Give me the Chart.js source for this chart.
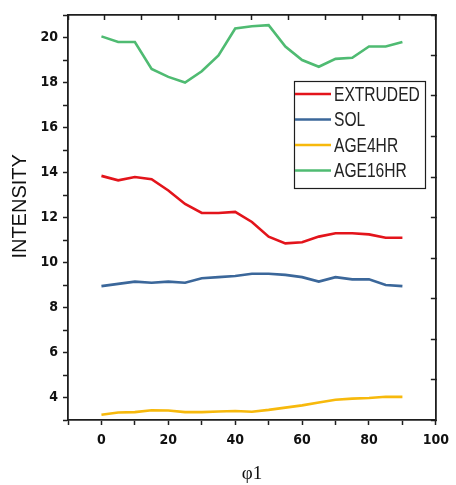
<!DOCTYPE html>
<html>
<head>
<meta charset="utf-8">
<script src="https://cdn.jsdelivr.net/npm/chart.js@4.4.1/dist/chart.umd.min.js"></script>
<style>
  html, body { margin: 0; padding: 0; background: #fff; }
  #wrap { width: 456px; height: 485px; }
</style>
</head>
<body>
<div id="wrap"><canvas id="c"></canvas></div>
<script>
// data
var PHI = [0, 5, 10, 15, 20, 25, 30, 35, 40, 45, 50, 55, 60, 65, 70, 75, 80, 85, 90];
var SERIES_NAMES = ['EXTRUDED', 'SOL', 'AGE4HR', 'AGE16HR'];
var EXTRUDED = [13.85, 13.65, 13.8, 13.7, 13.2, 12.6, 12.2, 12.2, 12.25, 11.8, 11.15, 10.85, 10.9, 11.15, 11.3, 11.3, 11.25, 11.1, 11.1];
var SOL      = [8.95, 9.05, 9.15, 9.1, 9.15, 9.1, 9.3, 9.35, 9.4, 9.5, 9.5, 9.45, 9.35, 9.15, 9.35, 9.25, 9.25, 9.0, 8.95];
var AGE4HR   = [3.23, 3.33, 3.35, 3.43, 3.42, 3.35, 3.35, 3.38, 3.4, 3.37, 3.45, 3.55, 3.65, 3.78, 3.9, 3.95, 3.98, 4.03, 4.03];
var AGE16HR  = [20.05, 19.8, 19.8, 18.6, 18.25, 18.0, 18.5, 19.2, 20.4, 20.5, 20.55, 19.6, 19.0, 18.7, 19.05, 19.1, 19.6, 19.6, 19.8];
var X_LABELS = [0, 20, 40, 60, 80, 100];
var Y_LABELS = [4, 6, 8, 10, 12, 14, 16, 18, 20];

var COLORS = ['#e3141b', '#3b679a', '#f7b90c', '#4fbb72'];
var TICK_FONT = "'DejaVu Sans Condensed', 'Liberation Sans', sans-serif";
var AXIS_COL = '#1e1e1e';

function pts(arr) {
    return PHI.map(function(x, i) { return { x: x, y: arr[i] }; });
}

var allSeries = [EXTRUDED, SOL, AGE4HR, AGE16HR];
var datasets = allSeries.map(function(arr, i) {
    return {
        label: SERIES_NAMES[i],
        data: pts(arr),
        borderColor: COLORS[i],
        backgroundColor: COLORS[i],
        borderWidth: 2.6,
        pointRadius: 0,
        tension: 0,
        fill: false
    };
});

// legend box drawn inside the plot, like the original (narrow text by squeezing)
var boxLegend = {
    id: 'boxLegend',
    afterDraw: function(chart) {
        var ctx = chart.ctx;
        var x0 = 294, y0 = 81, w = 131, h = 107;
        ctx.save();
        ctx.fillStyle = '#fff';
        ctx.fillRect(x0, y0, w, h);
        ctx.strokeStyle = AXIS_COL;
        ctx.lineWidth = 1.2;
        ctx.strokeRect(x0 + 0.5, y0 + 0.5, w, h);
        chart.data.datasets.forEach(function(ds, i) {
            var yy = y0 + 13 + i * 25.5;
            ctx.strokeStyle = ds.borderColor;
            ctx.lineWidth = 2.6;
            ctx.beginPath();
            ctx.moveTo(x0 + 1, yy);
            ctx.lineTo(x0 + 37, yy);
            ctx.stroke();
            ctx.save();
            ctx.translate(x0 + 40, yy + 1);
            ctx.scale(0.78, 1);
            ctx.font = "20px 'Liberation Sans', Arial, sans-serif";
            ctx.textBaseline = 'middle';
            ctx.fillStyle = '#222';
            ctx.fillText(ds.label, 0, 0);
            ctx.restore();
        });
        ctx.restore();
    }
};

new Chart(document.getElementById('c'), {
    type: 'line',
    data: { datasets: datasets },
    plugins: [boxLegend],
    options: {
        responsive: true,
        maintainAspectRatio: false,
        animation: false,
        layout: { padding: { left: 0, right: 10, top: 15, bottom: 0 } },
        plugins: { legend: { display: false }, tooltip: { enabled: false } },
        scales: {
            x: {
                type: 'linear', position: 'bottom',
                min: -10, max: 100,
                grid: { drawOnChartArea: false, tickLength: 5, tickColor: AXIS_COL, tickWidth: 1.5 },
                border: { color: AXIS_COL, width: 1.8 },
                ticks: {
                    stepSize: 10, padding: 7, color: '#111',
                    autoSkip: false, maxRotation: 0, minRotation: 0,
                    font: { family: TICK_FONT, size: 14, weight: 'bold' },
                    callback: function(v) { return X_LABELS.indexOf(v) >= 0 ? String(v) : ''; }
                },
                title: {
                    display: true, text: 'φ1', color: '#111',
                    font: { family: "'Liberation Serif', 'DejaVu Serif', serif", size: 19 },
                    padding: { top: 0, bottom: 0 }
                },
                afterFit: function(s) { s.height = 65; }
            },
            y: {
                type: 'linear', position: 'left',
                min: 3, max: 21,
                grid: { drawOnChartArea: false, tickLength: 5, tickColor: AXIS_COL, tickWidth: 1.5 },
                border: { color: AXIS_COL, width: 1.8 },
                ticks: {
                    stepSize: 1, padding: 5, color: '#111', autoSkip: false,
                    font: { family: TICK_FONT, size: 14, weight: 'bold' },
                    callback: function(v) { return Y_LABELS.indexOf(v) >= 0 ? String(v) : ''; }
                },
                title: {
                    display: true, text: '    INTENSITY', color: '#111',
                    font: { family: "'Liberation Sans', Arial, sans-serif", size: 20 },
                    padding: { top: 8, bottom: 0 }
                },
                afterFit: function(s) { s.width = 68; }
            },
            x2: {
                type: 'linear', position: 'top',
                min: 0, max: 10,
                grid: { drawOnChartArea: false, tickLength: -5, tickColor: AXIS_COL, tickWidth: 1.5 },
                border: { color: AXIS_COL, width: 1.8 },
                ticks: { stepSize: 1, display: false },
                afterFit: function(s) { s.height = 0; }
            },
            y2: {
                type: 'linear', position: 'right',
                min: 0, max: 10,
                grid: { drawOnChartArea: false, tickLength: -5, tickColor: AXIS_COL, tickWidth: 1.5 },
                border: { color: AXIS_COL, width: 1.8 },
                ticks: { stepSize: 1, display: false },
                afterFit: function(s) { s.width = 0; }
            }
        }
    }
});
</script>
</body>
</html>
